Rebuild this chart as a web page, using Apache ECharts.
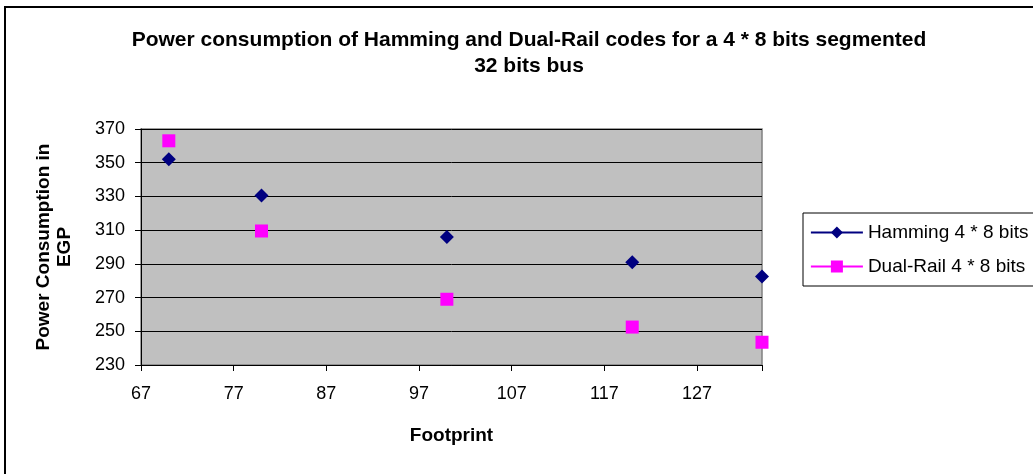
<!DOCTYPE html>
<html>
<head>
<meta charset="utf-8">
<script src="https://cdn.jsdelivr.net/npm/echarts@6/dist/echarts.min.js"></script>
<style>
  html, body { margin: 0; padding: 0; background: #fff; overflow: hidden; }
  #frame { position: absolute; left: 4px; top: 6px; width: 1100px; height: 520px;
           border-left: 2px solid #000; border-top: 2px solid #000; }
  #chart { position: absolute; left: 0; top: 0; width: 1033px; height: 474px; }
</style>
</head>
<body>
<div id="frame"></div>
<div id="chart"></div>
<script>
var footprint = [70, 80, 100, 120, 134];
var hamming = [352, 330.5, 306, 291, 282.5];
var dualRail = [363, 309.5, 269, 252.5, 243.5];
var seriesNames = ['Hamming 4 * 8 bits', 'Dual-Rail 4 * 8 bits'];

function pairs(xs, ys) {
    var out = [];
    for (var i = 0; i < xs.length; i++) out.push([xs[i], ys[i]]);
    return out;
}

var dom = document.getElementById("chart");
var myChart = echarts.init(dom);
var font = 'Liberation Sans, Arial, sans-serif';

var option = {
    animation: false,
    title: {
        text: 'Power consumption of Hamming and Dual-Rail codes for a 4 * 8 bits segmented\n32 bits bus',
        left: 524,
        top: 22,
        textAlign: 'center',
        textStyle: { fontFamily: font, fontSize: 21, fontWeight: 'bold', color: '#000', lineHeight: 26 }
    },
    legend: {
        orient: 'vertical',
        left: 803,
        top: 213,
        padding: [10, 10, 10, 7],
        itemWidth: 52,
        itemHeight: 15,
        itemGap: 15,
        borderColor: '#000',
        borderWidth: 1,
        textStyle: { fontFamily: font, fontSize: 19, color: '#000' },
        lineStyle: { width: 1.8, opacity: 1 },
        data: seriesNames
    },
    grid: {
        left: 141,
        right: 271,
        top: 129,
        bottom: 109,
        show: true,
        backgroundColor: '#C0C0C0',
        borderColor: '#808080',
        borderWidth: 1.5
    },
    xAxis: {
        type: 'value',
        min: 67,
        max: 134,
        interval: 10,
        name: 'Footprint',
        nameLocation: 'middle',
        nameGap: 61,
        nameTextStyle: { fontFamily: font, fontSize: 19, fontWeight: 'bold', color: '#000' },
        axisLine: { show: true, lineStyle: { color: '#000', width: 1 } },
        axisTick: { show: true, length: 6, lineStyle: { color: '#000' } },
        axisLabel: {
            fontFamily: font, fontSize: 18, color: '#000', margin: 20,
            formatter: function (v) { return v === 134 ? '' : v; }
        },
        splitLine: { show: false }
    },
    yAxis: {
        type: 'value',
        min: 230,
        max: 370,
        interval: 20,
        name: 'Power Consumption in\nEGP',
        nameLocation: 'middle',
        nameRotate: 90,
        nameGap: 66,
        nameTextStyle: { fontFamily: font, fontSize: 19, fontWeight: 'bold', color: '#000', lineHeight: 21 },
        axisLine: { show: true, lineStyle: { color: '#000', width: 1 } },
        axisTick: { show: true, length: 6, lineStyle: { color: '#000' } },
        axisLabel: { fontFamily: font, fontSize: 18, color: '#000', margin: 16 },
        splitLine: { show: true, lineStyle: { color: '#000', width: 1 } }
    },
    series: [
        {
            name: seriesNames[0],
            type: 'line',
            data: pairs(footprint, hamming),
            symbol: 'diamond',
            symbolSize: 14,
            showSymbol: true,
            itemStyle: { color: '#000080' },
            lineStyle: { color: '#000080', opacity: 0 }
        },
        {
            name: seriesNames[1],
            type: 'line',
            data: pairs(footprint, dualRail),
            symbol: 'rect',
            symbolSize: 13,
            showSymbol: true,
            itemStyle: { color: '#FF00FF' },
            lineStyle: { color: '#FF00FF', opacity: 0 }
        }
    ]
};

if (option && typeof option === "object") {
    myChart.setOption(option, true);
}
</script>
</body>
</html>
